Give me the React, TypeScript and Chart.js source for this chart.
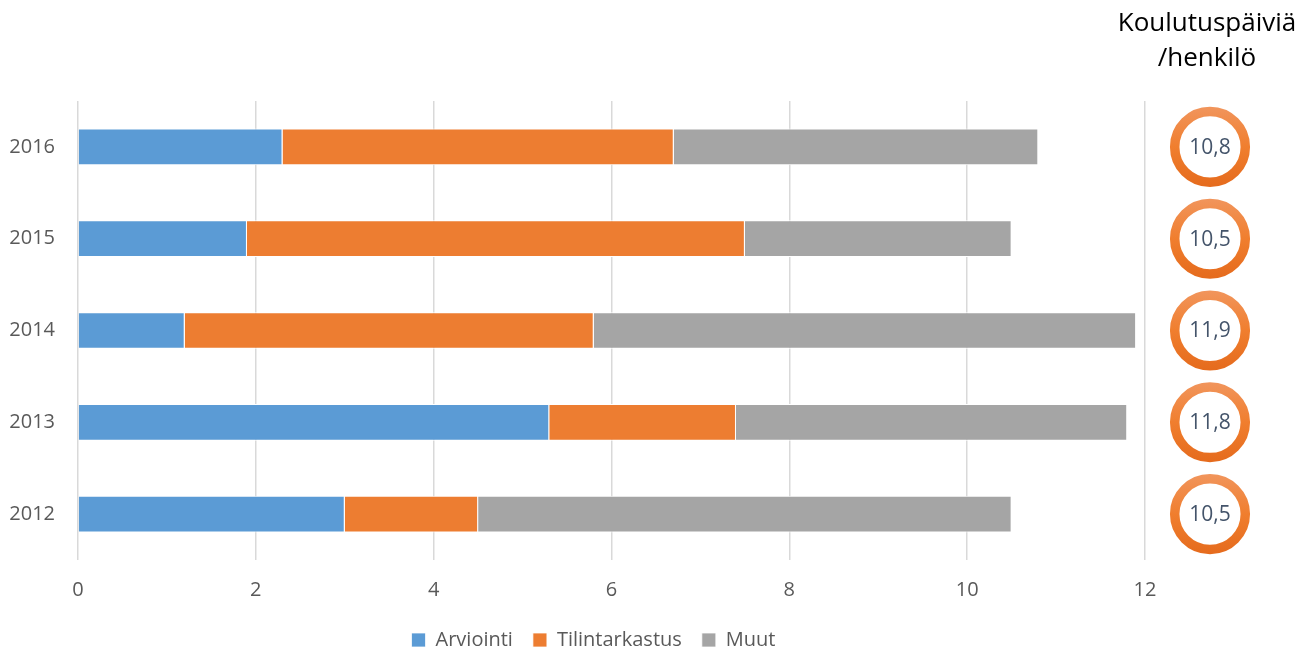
import React, { useEffect, useRef } from "react";
import { Chart, registerables } from "chart.js";

Chart.register(...registerables);

const categories = ["2016", "2015", "2014", "2013", "2012"];
const arviointi = [2.3, 1.9, 1.2, 5.3, 3.0];
const tilintarkastus = [4.4, 5.6, 4.6, 2.1, 1.5];
const muut = [4.1, 3.0, 6.1, 4.4, 6.0];
const perPerson = [10.8, 10.5, 11.9, 11.8, 10.5];
const titleLines = ["Koulutuspäiviä", "/henkilö"];
const xTicks = [0, 2, 4, 6, 8, 10, 12];

const FONT = "'Open Sans', 'DejaVu Sans', sans-serif";

const ringPlugin = {
  id: "ringPlugin",
  afterLayout(chart: any) {
    const lg = chart.legend;
    if (lg) {
      lg.left += 21;
      lg.right += 21;
    }
  },
  afterDraw(chart: any) {
    const ctx = chart.ctx;
    const y = chart.scales.y;
    const cx = 1210;
    ctx.save();
    ctx.fillStyle = "#000000";
    ctx.font = `26px ${FONT}`;
    ctx.textAlign = "center";
    ctx.textBaseline = "middle";
    ctx.fillText(titleLines[0], cx - 3, 24);
    ctx.fillText(titleLines[1], cx - 3, 59);
    perPerson.forEach((v, i) => {
      const cy = y.getPixelForValue(i);
      const g = ctx.createLinearGradient(0, cy - 40, 0, cy + 40);
      g.addColorStop(0, "#F1955C");
      g.addColorStop(0.5, "#F07E2E");
      g.addColorStop(1, "#E56B1D");
      ctx.beginPath();
      ctx.arc(cx, cy, 35.3, 0, Math.PI * 2);
      ctx.strokeStyle = g;
      ctx.lineWidth = 9.5;
      ctx.stroke();
      ctx.fillStyle = "#44546A";
      ctx.font = `21px ${FONT}`;
      ctx.fillText(v.toFixed(1).replace(".", ","), cx, cy + 1);
    });
    ctx.restore();
  },
};

export default function App() {
  const ref = useRef<HTMLCanvasElement>(null);
  useEffect(() => {
    document.body.style.margin = "0";
    const chart = new Chart(ref.current!, {
      type: "bar",
      data: {
        labels: categories,
        datasets: [
          { label: "Arviointi", data: arviointi, backgroundColor: "#5B9BD5" },
          { label: "Tilintarkastus", data: tilintarkastus, backgroundColor: "#ED7D31" },
          { label: "Muut", data: muut, backgroundColor: "#A5A5A5" },
        ].map((d) => ({
          ...d,
          borderColor: "#FFFFFF",
          borderWidth: { left: 0, right: 1, top: 1, bottom: 1 },
          categoryPercentage: 0.8,
          barPercentage: 0.5,
        })) as any,
      },
      options: {
        indexAxis: "y",
        animation: false,
        responsive: false,
        layout: { padding: { top: 101, right: 162, left: 0, bottom: -10 } },
        scales: {
          x: {
            stacked: true,
            min: 0,
            max: 12,
            afterBuildTicks: (s: any) => {
              s.ticks = xTicks.map((v) => ({ value: v }));
            },
            grid: { color: "#D9D9D9", lineWidth: 1.5, drawTicks: false },
            border: { display: false },
            ticks: { color: "#595959", font: { family: FONT, size: 20 }, padding: 18 },
            afterFit: (s: any) => {
              s.height = 50;
            },
          },
          y: {
            stacked: true,
            grid: { display: false },
            border: { display: false },
            ticks: { color: "#595959", font: { family: FONT, size: 20 }, padding: 15 },
            afterFit: (s: any) => {
              s.width = 78;
            },
          },
        },
        plugins: {
          legend: {
            position: "bottom",
            labels: {
              color: "#595959",
              font: { family: FONT, size: 20 },
              boxWidth: 14,
              boxHeight: 14,
              padding: 20,
            },
          },
          tooltip: { enabled: false },
        },
      },
      plugins: [ringPlugin],
    });
    return () => chart.destroy();
  }, []);
  return <canvas ref={ref} width={1307} height={650} style={{ display: "block" }} />;
}
